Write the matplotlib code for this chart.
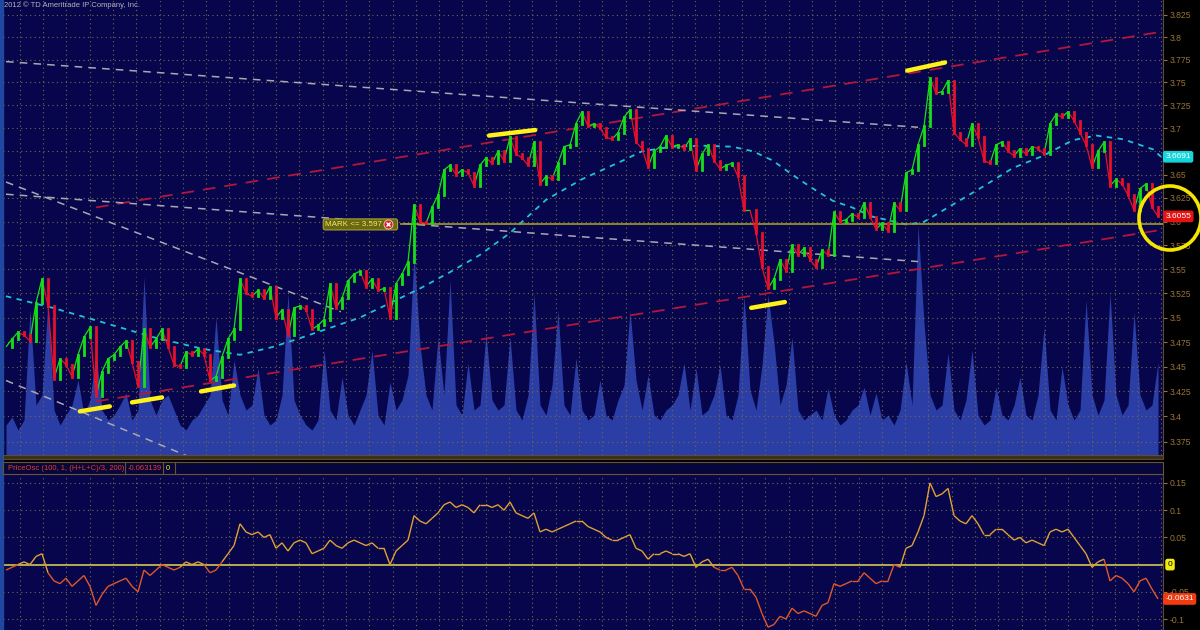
import numpy as np
import matplotlib
matplotlib.use("Agg")
import matplotlib.pyplot as plt
from matplotlib.ticker import FixedLocator, FuncFormatter, NullLocator
from matplotlib.collections import LineCollection
from matplotlib.patches import Rectangle, Ellipse

# закрытия баров (шаг ~6 px по оси времени)
close = [
    3.470, 3.478, 3.485, 3.482, 3.476, 3.515, 3.540, 3.512, 3.438, 3.458,
    3.452, 3.440, 3.462, 3.480, 3.490, 3.420, 3.445, 3.458, 3.462, 3.470,
    3.476, 3.455, 3.430, 3.488, 3.470, 3.478, 3.488, 3.470, 3.452, 3.450,
    3.465, 3.462, 3.468, 3.462, 3.436, 3.440, 3.460, 3.478, 3.488, 3.540,
    3.525, 3.522, 3.528, 3.520, 3.532, 3.500, 3.508, 3.482, 3.510, 3.512,
    3.508, 3.488, 3.492, 3.498, 3.535, 3.510, 3.520, 3.538, 3.545, 3.548,
    3.532, 3.540, 3.528, 3.530, 3.500, 3.535, 3.545, 3.558, 3.618, 3.600,
    3.598, 3.615, 3.628, 3.655, 3.660, 3.650, 3.655, 3.652, 3.638, 3.660,
    3.668, 3.662, 3.675, 3.665, 3.690, 3.672, 3.668, 3.660, 3.685, 3.640,
    3.648, 3.645, 3.662, 3.680, 3.682, 3.705, 3.718, 3.702, 3.705, 3.700,
    3.690, 3.688, 3.695, 3.712, 3.720, 3.685, 3.678, 3.658, 3.675, 3.680,
    3.692, 3.680, 3.682, 3.678, 3.688, 3.655, 3.672, 3.682, 3.665, 3.656,
    3.660, 3.662, 3.648, 3.612, 3.612, 3.588, 3.552, 3.530, 3.540, 3.560,
    3.548, 3.575, 3.565, 3.572, 3.560, 3.552, 3.570, 3.565, 3.610, 3.600,
    3.602, 3.608, 3.605, 3.620, 3.605, 3.592, 3.598, 3.590, 3.620, 3.612,
    3.652, 3.655, 3.682, 3.702, 3.755, 3.738, 3.740, 3.752, 3.695, 3.688,
    3.682, 3.705, 3.690, 3.665, 3.662, 3.682, 3.685, 3.675, 3.670, 3.678,
    3.672, 3.680, 3.678, 3.672, 3.705, 3.715, 3.712, 3.718, 3.708, 3.695,
    3.682, 3.658, 3.675, 3.685, 3.638, 3.645, 3.640, 3.628, 3.612, 3.635,
    3.640, 3.615, 3.6055,
]

volume = [
    30, 38, 25, 35, 145, 50, 60, 155, 45, 30, 40, 50, 75, 40, 55, 103, 45, 35,
    40, 50, 62, 35, 45, 178, 55, 40, 55, 60, 45, 30, 25, 35, 40, 50, 60, 138,
    55, 40, 95, 60, 45, 50, 87, 40, 30, 35, 60, 162, 55, 40, 30, 25, 35, 105,
    45, 35, 78, 40, 30, 45, 60, 105, 40, 30, 73, 45, 55, 80, 202, 110, 60, 45,
    118, 60, 175, 50, 40, 92, 45, 50, 122, 55, 45, 50, 118, 45, 35, 60, 162,
    50, 40, 70, 145, 50, 40, 97, 45, 35, 40, 75, 40, 35, 55, 70, 145, 75, 45,
    80, 40, 35, 45, 50, 60, 92, 45, 87, 40, 45, 60, 90, 40, 35, 60, 160, 65,
    45, 90, 160, 112, 50, 70, 118, 45, 35, 40, 45, 35, 67, 40, 30, 35, 45, 50,
    68, 40, 62, 35, 40, 30, 45, 93, 50, 230, 132, 60, 45, 50, 102, 45, 35, 55,
    105, 40, 30, 35, 68, 40, 35, 50, 78, 40, 35, 60, 128, 45, 35, 88, 50, 35,
    45, 155, 60, 40, 55, 162, 60, 40, 50, 143, 60, 45, 50, 93,
]

osc = [
    -0.010, -0.005, 0.000, 0.005, 0.000, 0.015, 0.020, -0.015, -0.030, -0.035,
    -0.025, -0.040, -0.030, -0.020, -0.040, -0.075, -0.055, -0.040, -0.035, -0.030,
    -0.025, -0.040, -0.050, -0.010, -0.020, -0.010, 0.000, -0.005, -0.010, -0.005,
    0.005, 0.000, 0.005, 0.000, -0.015, -0.010, 0.005, 0.020, 0.035, 0.075,
    0.060, 0.055, 0.060, 0.050, 0.055, 0.030, 0.040, 0.025, 0.040, 0.045,
    0.040, 0.020, 0.025, 0.030, 0.045, 0.035, 0.030, 0.040, 0.045, 0.040,
    0.035, 0.040, 0.030, 0.030, 0.000, 0.025, 0.035, 0.045, 0.090, 0.080,
    0.075, 0.085, 0.095, 0.110, 0.115, 0.105, 0.110, 0.105, 0.095, 0.110,
    0.110, 0.105, 0.110, 0.100, 0.115, 0.095, 0.090, 0.085, 0.095, 0.060,
    0.065, 0.060, 0.065, 0.070, 0.075, 0.080, 0.080, 0.070, 0.065, 0.060,
    0.050, 0.045, 0.045, 0.050, 0.055, 0.030, 0.025, 0.010, 0.020, 0.020,
    0.025, 0.020, 0.020, 0.015, 0.020, -0.005, 0.005, 0.010, -0.005, -0.010,
    -0.010, -0.005, -0.020, -0.045, -0.045, -0.060, -0.090, -0.115, -0.110, -0.095,
    -0.100, -0.080, -0.090, -0.085, -0.090, -0.095, -0.075, -0.070, -0.035, -0.040,
    -0.035, -0.030, -0.030, -0.015, -0.025, -0.035, -0.030, -0.030, 0.000, -0.005,
    0.030, 0.035, 0.060, 0.090, 0.150, 0.125, 0.130, 0.140, 0.090, 0.080,
    0.075, 0.090, 0.075, 0.055, 0.055, 0.065, 0.065, 0.055, 0.045, 0.050,
    0.040, 0.045, 0.040, 0.035, 0.060, 0.065, 0.060, 0.065, 0.050, 0.035,
    0.020, -0.005, 0.005, 0.010, -0.030, -0.020, -0.025, -0.035, -0.050, -0.030,
    -0.025, -0.045, -0.0631,
]

# скользящая средняя (номер бара, значение)
ma_idx = [0, 7.8, 16.2, 24.5, 32.8, 39, 44.5, 49.5, 59, 69, 74, 79, 84, 90, 96,
          102.8, 106, 111, 116, 121, 124.5, 127.8, 131, 134.5, 137.8, 141,
          144.5, 146, 150, 152.8, 157.8, 162.8, 167.8, 172.8, 177.8, 181.7,
          186.2, 191.2, 192.5]
ma_val = [3.522, 3.510, 3.495, 3.480, 3.468, 3.462, 3.470, 3.480, 3.500, 3.530,
          3.547, 3.565, 3.588, 3.623, 3.645, 3.665, 3.675, 3.680, 3.681, 3.680,
          3.675, 3.665, 3.650, 3.635, 3.622, 3.615, 3.605, 3.603, 3.597, 3.599,
          3.618, 3.637, 3.657, 3.670, 3.687, 3.692, 3.688, 3.677, 3.6691]

price_ticks = [3.375, 3.4, 3.425, 3.45, 3.475, 3.5, 3.525, 3.55, 3.575, 3.6,
               3.625, 3.65, 3.675, 3.7, 3.725, 3.75, 3.775, 3.8, 3.825]
osc_ticks = [-0.1, -0.05, 0, 0.05, 0.1, 0.15]

mark_level = 3.597
last_price = 3.6055
last_ma = 3.6691
last_osc = -0.0631

# нарисованные от руки линии: (бар, цена) -> (бар, цена)
red_lines = [((15, 3.615), (193.3, 3.807)), ((15, 3.415), (193.3, 3.592))]
grey_lines = [((0, 3.773), (152, 3.701)), ((0, 3.629), (152, 3.558)),
              ((0, 3.642), (55.8, 3.506)), ((0, 3.436), (30.5, 3.360))]
yellow_marks = [((12.3, 3.405), (17.3, 3.410)), ((21, 3.414), (26, 3.419)),
                ((32.5, 3.425), (38, 3.431)), ((80.5, 3.692), (88.2, 3.698)),
                ((124.2, 3.510), (129.8, 3.516)), ((150.2, 3.763), (156.5, 3.772))]

BG = "#07064c"
GRID = "#76674a"
TICKC = "#9a7436"
W, H = 1200, 630


def rect(x0, y0, x1, y1):
    return [x0 / W, 1 - y1 / H, (x1 - x0) / W, (y1 - y0) / H]


plt.rcParams["font.family"] = ["Liberation Sans", "DejaVu Sans"]
fig = plt.figure(figsize=(12, 6.3), dpi=100, facecolor="black")

idx = np.arange(len(close))
xlim = (-0.5, 192.83)

# ---- верхняя панель ----
ax = fig.add_axes(rect(3, 0, 1163, 455))
ax.set_facecolor(BG)
ax.set_yscale("log")
ax.set_ylim(3.3617, 3.8418)
ax.set_xlim(*xlim)

vol_top = 455.0
ax.fill_between(idx, 0, np.array(volume) / vol_top,
                transform=ax.get_xaxis_transform(), color="#2a3ea6",
                lw=0, zorder=0.4)

for (a, b) in red_lines:
    ax.plot([a[0], b[0]], [a[1], b[1]], color="#b4163a", lw=1.3,
            ls=(0, (7, 5)), zorder=2)
for (a, b) in grey_lines:
    ax.plot([a[0], b[0]], [a[1], b[1]], color="#a8a8b4", lw=1.1,
            ls=(0, (5, 4)), zorder=2)

ax.plot(ma_idx, ma_val, color="#1ec4d4", lw=1.3, ls=(0, (3, 3)), zorder=3)

# свечи: тело от предыдущего закрытия до текущего + тонкая связка
opens = [close[0]] + close[:-1]
lo = np.minimum(opens, close)
hi = np.maximum(opens, close)
up = np.array(close) >= np.array(opens)
cols = np.where(up, "#18e018", "#e8102a")
pts = np.column_stack([idx, close])
links = np.stack([pts[:-1], pts[1:]], axis=1)
ax.add_collection(LineCollection(links, colors=cols[1:], lw=0.9, zorder=4))
lc = ax.vlines(idx, lo, hi, colors=cols, lw=2.0, zorder=4.5)
lc.set_capstyle("projecting")

ax.hlines(mark_level, 65.6, xlim[1], color="#a09a2a", lw=1.2, zorder=3.5)
ax.text(53.2, mark_level, "MARK <= 3.597      ", fontsize=5.8, color="#f0ec70",
        va="center", ha="left", zorder=6,
        bbox=dict(boxstyle="round,pad=0.25", fc="#6a6810", ec="#a8a030", lw=0.8))
ax.plot(63.7, mark_level, "o", ms=6.5, mfc="#d82020", mec="#f0d0d0", mew=0.6,
        zorder=7)
ax.plot(63.7, mark_level, "x", ms=3.2, mec="white", mew=1.0, zorder=8)

for (a, b) in yellow_marks:
    ax.plot([a[0], b[0]], [a[1], b[1]], color="#fff21a", lw=3.2,
            solid_capstyle="round", zorder=6)


def price_fmt(v, _):
    # метка 3.675 закрыта плашкой средней
    if abs(v - 3.675) < 1e-6:
        return ""
    return f"{round(v, 4):g}"


ax.yaxis.tick_right()
ax.yaxis.set_major_locator(FixedLocator(price_ticks))
ax.yaxis.set_minor_locator(NullLocator())
ax.yaxis.set_major_formatter(FuncFormatter(price_fmt))
ax.xaxis.set_major_locator(FixedLocator(np.arange(2.3, 193, 3.883)))
ax.tick_params(axis="x", length=0, labelbottom=False)
ax.tick_params(axis="y", which="both", length=3, color=TICKC,
               labelcolor=TICKC, labelsize=6.2, pad=2)
ax.grid(True, color=GRID, ls=(0, (1, 3)), lw=0.8)
ax.set_axisbelow(True)
for s in ["top", "left", "bottom"]:
    ax.spines[s].set_visible(False)
ax.spines["right"].set_color("#5e4c2c")

tr = ax.get_yaxis_transform()
ax.text(1.002, last_ma, "3.6691", transform=tr, fontsize=6, color="white",
        va="center", ha="left", zorder=9,
        bbox=dict(boxstyle="round,pad=0.2", fc="#14d6dc", ec="#14d6dc"))
ax.text(1.002, last_price, "3.6055", transform=tr, fontsize=6, color="white",
        va="center", ha="left", zorder=9,
        bbox=dict(boxstyle="round,pad=0.2", fc="#e41414", ec="#e41414"))

# ---- нижняя панель ----
axo = fig.add_axes(rect(3, 474, 1163, 630))
axo.set_facecolor(BG)
axo.set_xlim(*xlim)
axo.set_ylim(-0.1202, 0.1665)
opts = np.column_stack([idx, osc])
segs = np.stack([opts[:-1], opts[1:]], axis=1)
mid = (np.array(osc[:-1]) + np.array(osc[1:])) / 2
ocols = ["#e0a034" if m >= 0 else "#e0582a" for m in mid]
axo.add_collection(LineCollection(segs, colors=ocols, lw=1.0, zorder=3))
axo.axhline(0, color="#d0c850", lw=1.2, zorder=2)

axo.yaxis.tick_right()
axo.yaxis.set_major_locator(FixedLocator([t for t in osc_ticks if t != 0]))
axo.yaxis.set_major_formatter(FuncFormatter(lambda v, _: f"{round(v, 3):g}"))
axo.xaxis.set_major_locator(FixedLocator(np.arange(2.3, 193, 3.883)))
axo.tick_params(axis="x", length=0, labelbottom=False)
axo.tick_params(axis="y", length=3, color=TICKC, labelcolor=TICKC,
                labelsize=6.2, pad=2)
axo.grid(True, color=GRID, ls=(0, (1, 3)), lw=0.8)
axo.set_axisbelow(True)
for s in ["top", "left", "bottom"]:
    axo.spines[s].set_visible(False)
axo.spines["right"].set_color("#5e4c2c")

tro = axo.get_yaxis_transform()
axo.text(1.004, 0, "0", transform=tro, fontsize=6, color="black",
         va="center", ha="left", zorder=9,
         bbox=dict(boxstyle="round,pad=0.2", fc="#f0ee10", ec="#f0ee10"))
axo.text(1.002, last_osc, "-0.0631", transform=tro, fontsize=6, color="white",
         va="center", ha="left", zorder=9,
         bbox=dict(boxstyle="round,pad=0.2", fc="#f03a10", ec="#f03a10"))

# ---- рамки, заголовки ----
fig.patches.append(Rectangle((0, 0), 3 / W, 1, transform=fig.transFigure,
                             color="#2048a0", zorder=5))
fig.patches.append(Rectangle((3 / W, 1 - 459 / H), 1160 / W, 4 / H,
                             transform=fig.transFigure, fc="#3a301c",
                             ec="#6a5530", lw=0.6, zorder=5))
fig.patches.append(Rectangle((3 / W, 1 - 474 / H), 1160 / W, 12 / H,
                             transform=fig.transFigure, fc="#06063a",
                             ec="#6a5530", lw=0.8, zorder=5))
for xs in (125, 163, 175):
    fig.add_artist(plt.Line2D([xs / W, xs / W], [1 - 474 / H, 1 - 462 / H],
                              transform=fig.transFigure, color="#6a5530",
                              lw=0.8, zorder=6))
fig.text(8 / W, 1 - 468 / H, "PriceOsc (100, 1, (H+L+C)/3, 200)", fontsize=5.5,
         color="#ea3a2a", va="center", ha="left", zorder=7)
fig.text(128 / W, 1 - 468 / H, "-0.063139", fontsize=5.5, color="#ea3a2a",
         va="center", ha="left", zorder=7)
fig.text(166 / W, 1 - 468 / H, "0", fontsize=5.5, color="#e8e820",
         va="center", ha="left", zorder=7)
fig.text(4 / W, 1 - 5 / H, "2012 © TD Ameritrade IP Company, Inc.", fontsize=5.5,
         color="#b4b4b4", va="center", ha="left", zorder=7)

fig.add_artist(Ellipse((1170 / W, 1 - 218 / H), 62 / W, 64 / H,
                       transform=fig.transFigure, fill=False,
                       ec="#f4e600", lw=2.6, zorder=10))

fig.savefig("out.png", dpi=100, facecolor=fig.get_facecolor())
